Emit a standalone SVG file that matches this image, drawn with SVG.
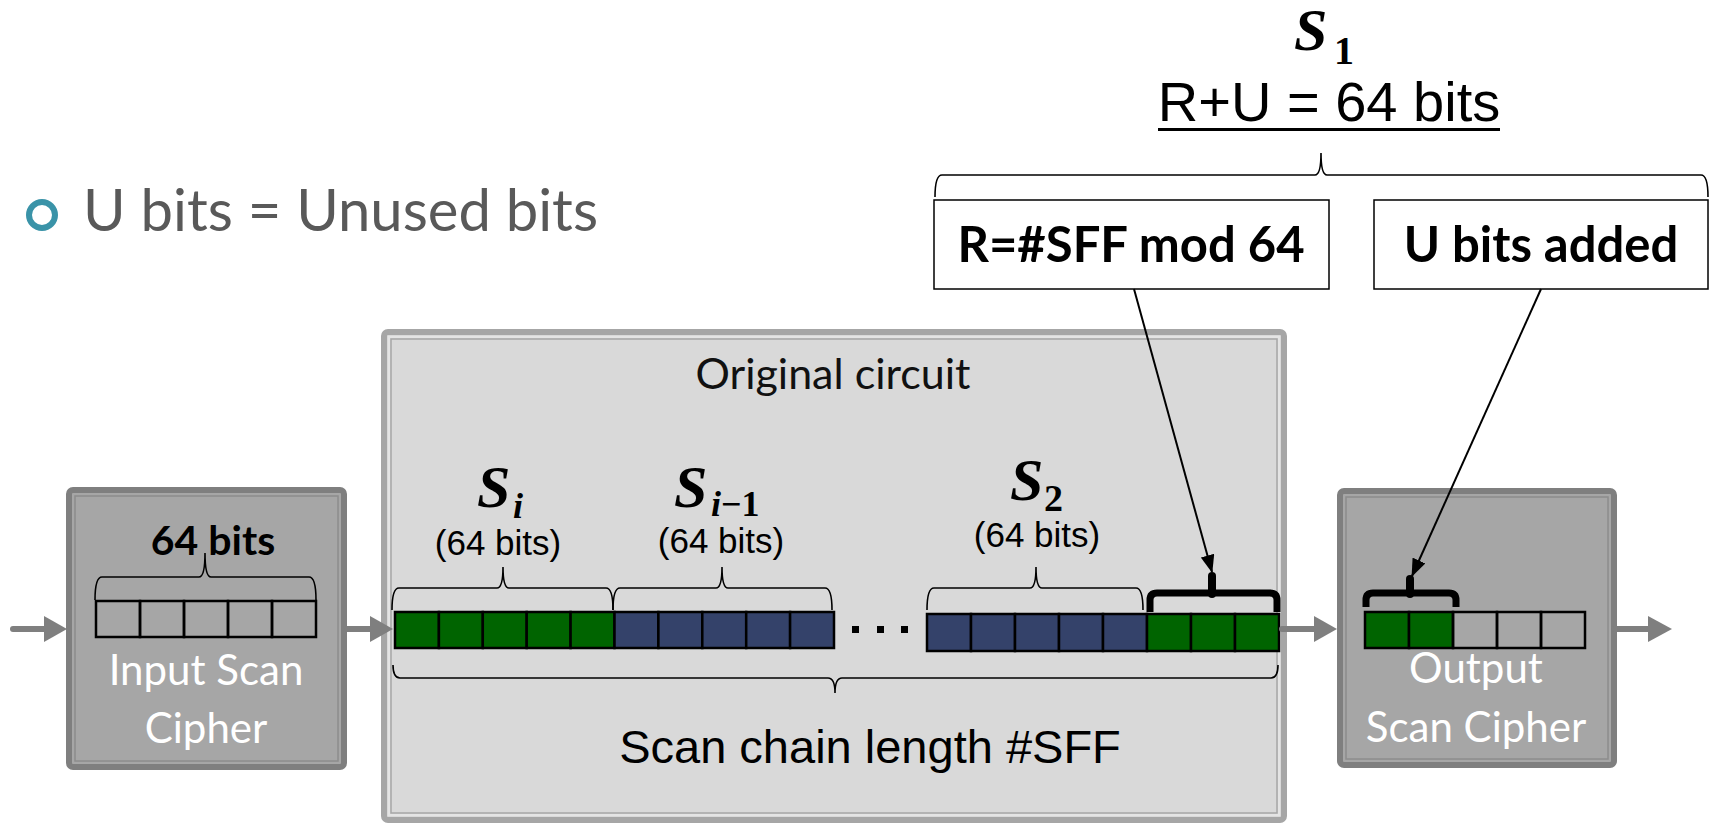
<svg xmlns="http://www.w3.org/2000/svg" width="1710" height="825" viewBox="0 0 1710 825">
<style>
.cell{stroke:#000;stroke-width:2.5}
.g{fill:#006400}
.b{fill:#34426a}
.e{fill:none}
.brace{fill:none;stroke:#000;stroke-width:1.6}
.thick{fill:none;stroke:#000;stroke-width:7}
.lbl{font-family:"Liberation Sans",Arial,sans-serif;fill:#000}
.cal{font-family:Lato,"Open Sans",sans-serif}
.math{font-family:"Liberation Serif","Times New Roman",serif;font-weight:bold}
.garrow{stroke:#7f7f7f;stroke-width:6;stroke-linecap:round;fill:none}
.ghead{fill:#7f7f7f}
.barrow{stroke:#000;stroke-width:2;fill:none}
.lbox{fill:#fff;stroke:#000;stroke-width:1.5}
</style>
<defs>
<marker id="bah" markerUnits="userSpaceOnUse" markerWidth="18" markerHeight="14" refX="17" refY="7" orient="auto"><path d="M0,0 L18,7 L0,14 z" fill="#000"/></marker>
</defs>
<rect width="1710" height="825" fill="#fff"/>

<g id="bullet">
<circle cx="42" cy="215" r="13" fill="none" stroke="#3a93a8" stroke-width="6"/>
<text class="cal" x="83" y="231" font-size="58" fill="#595959">U bits = Unused bits</text>
</g>

<g id="original-circuit">
<rect x="384" y="332" width="900" height="488" rx="4" fill="#d9d9d9" stroke="#a6a6a6" stroke-width="6"/>
<rect x="389" y="337" width="890" height="478" fill="none" stroke="#e4e4e4" stroke-width="2"/>
<rect x="391" y="339" width="886" height="474" fill="none" stroke="#a6a6a6" stroke-width="1.5"/>
<text class="cal" x="833" y="389" font-size="43" text-anchor="middle" fill="#111">Original circuit</text>
<text class="lbl" x="870" y="763" font-size="47" text-anchor="middle">Scan chain length #SFF</text>
<path class="brace" d="M393,665 Q393,678 400,678 H828 Q835,678 835,693 Q835,678 842,678 H1271 Q1278,678 1278,665"/>
</g>

<g id="chain-si">
<rect class="cell g" x="395" y="612" width="43.9" height="36"/>
<rect class="cell g" x="438.9" y="612" width="43.9" height="36"/>
<rect class="cell g" x="482.8" y="612" width="43.9" height="36"/>
<rect class="cell g" x="526.7" y="612" width="43.9" height="36"/>
<rect class="cell g" x="570.6" y="612" width="43.9" height="36"/>
<path class="brace" d="M392,610 Q392,588 399,588 H497 Q503,588 503,567 Q503,588 509,588 H606 Q613,588 613,610"/>
<text class="math" x="477" y="507" font-size="60" font-style="italic">S</text>
<text class="math" x="513" y="518" font-size="36" font-style="italic">i</text>
<text class="lbl" x="498" y="555" font-size="35" text-anchor="middle">(64 bits)</text>
</g>

<g id="chain-si1">
<rect class="cell b" x="614.5" y="612" width="43.9" height="36"/>
<rect class="cell b" x="658.4" y="612" width="43.9" height="36"/>
<rect class="cell b" x="702.3" y="612" width="43.9" height="36"/>
<rect class="cell b" x="746.2" y="612" width="43.9" height="36"/>
<rect class="cell b" x="790.1" y="612" width="43.9" height="36"/>
<path class="brace" d="M613,610 Q613,588 620,588 H716 Q722,588 722,567 Q722,588 728,588 H825 Q832,588 832,610"/>
<text class="math" x="674" y="507" font-size="60" font-style="italic">S</text>
<text class="math" x="711" y="516" font-size="36"><tspan font-style="italic">i</tspan>−1</text>
<text class="lbl" x="721" y="553" font-size="35" text-anchor="middle">(64 bits)</text>
</g>

<g id="dots">
<rect x="852" y="626" width="7" height="7" fill="#000"/>
<rect x="877" y="626" width="7" height="7" fill="#000"/>
<rect x="901" y="626" width="7" height="7" fill="#000"/>
</g>

<g id="chain-s2">
<rect class="cell b" x="927" y="614" width="44" height="37"/>
<rect class="cell b" x="971" y="614" width="44" height="37"/>
<rect class="cell b" x="1015" y="614" width="44" height="37"/>
<rect class="cell b" x="1059" y="614" width="44" height="37"/>
<rect class="cell b" x="1103" y="614" width="44" height="37"/>
<path class="brace" d="M927,610 Q927,588 934,588 H1030 Q1036,588 1036,567 Q1036,588 1042,588 H1136 Q1143,588 1143,610"/>
<text class="math" x="1010" y="500" font-size="60" font-style="italic">S</text>
<text class="math" x="1044" y="511" font-size="38">2</text>
<text class="lbl" x="1037" y="547" font-size="35" text-anchor="middle">(64 bits)</text>
</g>

<g id="chain-s1-r">
<rect class="cell g" x="1147" y="614" width="44" height="37"/>
<rect class="cell g" x="1191" y="614" width="44" height="37"/>
<rect class="cell g" x="1235" y="614" width="44" height="37"/>
<path class="thick" d="M1150,612 V600 Q1150,593 1157,593 H1270 Q1277,593 1277,600 V612"/>
<path d="M1212,594 V576" stroke="#000" stroke-width="8" stroke-linecap="round"/>
</g>

<g id="input-cipher">
<rect x="69" y="490" width="275" height="277" rx="4" fill="#a6a6a6" stroke="#7f7f7f" stroke-width="6"/>
<rect x="75" y="496" width="263" height="265" fill="none" stroke="#8c8c8c" stroke-width="1.5"/>
<rect class="cell e" x="96" y="601" width="44" height="36"/>
<rect class="cell e" x="140" y="601" width="44" height="36"/>
<rect class="cell e" x="184" y="601" width="44" height="36"/>
<rect class="cell e" x="228" y="601" width="44" height="36"/>
<rect class="cell e" x="272" y="601" width="44" height="36"/>
<path class="brace" d="M95,600 Q95,577 102,577 H199 Q205,577 205,553 Q205,577 211,577 H309 Q316,577 316,600"/>
<text class="cal" x="213" y="555" font-size="41" font-weight="bold" text-anchor="middle" fill="#000">64 bits</text>
<text class="cal" x="206" y="685" font-size="42" text-anchor="middle" fill="#fff">Input Scan</text>
<text class="cal" x="206" y="743" font-size="42" text-anchor="middle" fill="#fff">Cipher</text>
</g>

<g id="output-cipher">
<rect x="1340" y="491" width="274" height="274" rx="4" fill="#a6a6a6" stroke="#7f7f7f" stroke-width="6"/>
<rect x="1346" y="497" width="262" height="262" fill="none" stroke="#8c8c8c" stroke-width="1.5"/>
<rect class="cell g" x="1365" y="612" width="44" height="36"/>
<rect class="cell g" x="1409" y="612" width="44" height="36"/>
<rect class="cell e" x="1453" y="612" width="44" height="36"/>
<rect class="cell e" x="1497" y="612" width="44" height="36"/>
<rect class="cell e" x="1541" y="612" width="44" height="36"/>
<path class="thick" d="M1366,607 V600 Q1366,593 1373,593 H1449 Q1456,593 1456,600 V607"/>
<path d="M1410,594 V579" stroke="#000" stroke-width="8" stroke-linecap="round"/>
<text class="cal" x="1476" y="683" font-size="42" text-anchor="middle" fill="#fff">Output</text>
<text class="cal" x="1476" y="742" font-size="42" text-anchor="middle" fill="#fff">Scan Cipher</text>
</g>

<g id="s1-header">
<text class="math" x="1294" y="50" font-size="60" font-style="italic">S</text>
<text class="math" x="1334" y="64" font-size="40">1</text>
<text class="lbl" x="1329" y="121" font-size="56" text-anchor="middle">R+U = 64 bits</text>
<rect x="1158" y="128" width="342" height="3" fill="#000"/>
<path class="brace" d="M935,197 Q935,175 942,175 H1315 Q1321,175 1321,153 Q1321,175 1327,175 H1701 Q1708,175 1708,197"/>
</g>

<g id="r-box">
<rect class="lbox" x="934" y="200" width="395" height="89"/>
<text class="cal" x="1131" y="262" font-size="49" font-weight="bold" text-anchor="middle" fill="#000">R=#SFF mod 64</text>
</g>

<g id="u-box">
<rect class="lbox" x="1374" y="200" width="334" height="89"/>
<text class="cal" x="1541" y="262" font-size="49" font-weight="bold" text-anchor="middle" fill="#000">U bits added</text>
</g>

<g id="connectors">
<line class="garrow" x1="13" y1="629" x2="48" y2="629"/>
<polygon class="ghead" points="44,616 67,629 44,642"/>
<line class="garrow" x1="347" y1="629" x2="374" y2="629"/>
<polygon class="ghead" points="370,616 393,629 370,642"/>
<line class="garrow" x1="1282" y1="629" x2="1318" y2="629"/>
<polygon class="ghead" points="1314,616 1337,629 1314,642"/>
<line class="garrow" x1="1614" y1="629" x2="1652" y2="629"/>
<polygon class="ghead" points="1648,616 1672,629 1648,642"/>
<line class="barrow" x1="1134" y1="289" x2="1212" y2="572" marker-end="url(#bah)"/>
<line class="barrow" x1="1541" y1="289" x2="1412" y2="576" marker-end="url(#bah)"/>
</g>
</svg>
